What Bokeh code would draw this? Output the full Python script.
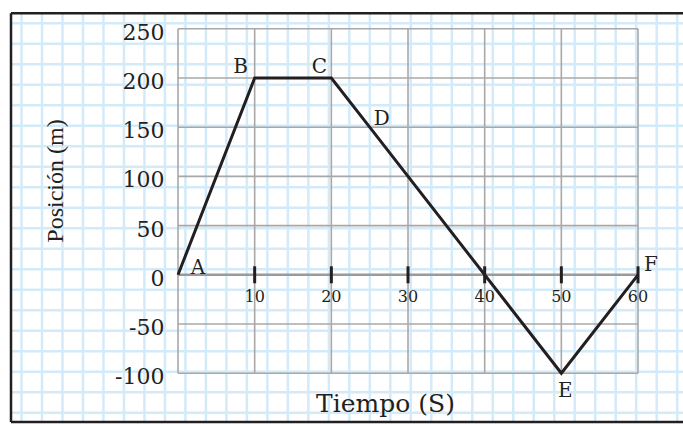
import numpy as np
from bokeh.plotting import figure
from bokeh.models import ColumnDataSource, Range1d, Grid, Label
from bokeh.core.properties import value
from bokeh.embed import file_html
from bokeh.resources import INLINE

# ---------------- data ----------------
time_s = [0, 10, 20, 25, 50, 60]
position_m = [0, 200, 200, 150, -100, 0]
point_names = ["A", "B", "C", "D", "E", "F"]
x_ticks = [10, 20, 30, 40, 50, 60]
y_ticks = [-100, -50, 0, 50, 100, 150, 200, 250]
x_grid = [0, 10, 20, 30, 40, 50, 60]
x_title = "Tiempo (S)"
y_title = "Posición (m)"

# ---------------- layout / style ----------------
W, H = 683, 424
PAGE_X0, PAGE_Y0 = 0, 0
X0_PAGE, PX_PER_X = 177.5, 7.667
Y0_PAGE, PX_PER_Y = 274.3, 0.984
INK = "#231f20"
SERIF = "DejaVu Serif"
label_dx = [20, -14, -12, 12, 4, 13]
label_dy = [-8, -12, -12, -9, 16.5, -10.5]

x_start = (PAGE_X0 - X0_PAGE) / PX_PER_X
x_end = (PAGE_X0 + W - X0_PAGE) / PX_PER_X
y_end = (Y0_PAGE - PAGE_Y0) / PX_PER_Y
y_start = (Y0_PAGE - (PAGE_Y0 + H)) / PX_PER_Y

p = figure(width=W, height=H, x_range=Range1d(x_start, x_end), y_range=Range1d(y_start, y_end),
           x_axis_location=None, y_axis_location=None, min_border=0,
           toolbar_location=None, output_backend="svg")
p.outline_line_color = None
p.background_fill_color = "white"
p.border_fill_color = "white"
p.center = [r for r in p.center if not isinstance(r, Grid)]

# page-pixel ranges for decoration
p.extra_x_ranges = {"px": Range1d(PAGE_X0, PAGE_X0 + W)}
p.extra_y_ranges = {"py": Range1d(PAGE_Y0 + H, PAGE_Y0)}

BORDER_L, BORDER_T, BORDER_B = 10.5, 12.7, 421.5

# graph paper (light blue)
BLUE = "#d3ebf9"
vx = [21 + 20.49 * k for k in range(33)]
hy = [22.7 + 20.5 * k for k in range(20)]
p.segment(x0=vx, x1=vx, y0=[BORDER_T] * len(vx), y1=[BORDER_B] * len(vx),
          x_range_name="px", y_range_name="py", line_color=BLUE, line_width=2.5, level="underlay")
p.segment(x0=[BORDER_L] * len(hy), x1=[W + 10] * len(hy), y0=hy, y1=hy,
          x_range_name="px", y_range_name="py", line_color=BLUE, line_width=2.5, level="underlay")

# chart grid (gray)
GRAY = "#a8a8a8"
ymin, ymax = min(y_ticks), max(y_ticks)
xmin, xmax = min(x_grid), max(x_grid)
p.segment(x0=x_grid, x1=x_grid, y0=[ymin] * len(x_grid), y1=[ymax] * len(x_grid),
          line_color=GRAY, line_width=1.6, level="underlay")
p.segment(x0=[xmin] * len(y_ticks), x1=[xmax] * len(y_ticks), y0=y_ticks, y1=y_ticks,
          line_color=GRAY, line_width=1.6, level="underlay")
p.segment(x0=[xmin], x1=[xmax], y0=[0], y1=[0], line_color="#9a9a9a", line_width=2.6, level="underlay")

# outer border
p.segment(x0=[BORDER_L, BORDER_L], x1=[BORDER_L, W + 10], y0=[BORDER_T, BORDER_T], y1=[BORDER_B, BORDER_T],
          x_range_name="px", y_range_name="py", line_color=INK, line_width=2.5)
p.segment(x0=[BORDER_L], x1=[W + 10], y0=[BORDER_B], y1=[BORDER_B],
          x_range_name="px", y_range_name="py", line_color=INK, line_width=2.5)

# x tick marks on the zero line
p.scatter(x=x_ticks, y=[0] * len(x_ticks), marker="dash", angle=np.pi / 2, size=17,
          line_color=INK, line_width=3)

# data line
p.line(time_s, position_m, line_color=INK, line_width=3, line_join="miter")

# point labels
src = ColumnDataSource(dict(x=time_s, y=position_m, t=point_names, dx=label_dx, dy=label_dy))
p.text(x="x", y="y", text="t", x_offset="dx", y_offset="dy", source=src,
       text_font=value(SERIF), text_font_size="20px", text_color=INK,
       text_align="center", text_baseline="middle")

# tick labels
p.text(x=x_ticks, y=[0] * len(x_ticks), text=[str(v) for v in x_ticks], y_offset=21,
       text_font=value(SERIF), text_font_size="16px", text_color=INK,
       text_align="center", text_baseline="middle")
p.text(x=[0] * len(y_ticks), y=y_ticks, text=[str(v) for v in y_ticks], x_offset=-13.5, y_offset=3,
       text_font=value(SERIF), text_font_size="22px", text_color=INK,
       text_align="right", text_baseline="middle")

# axis titles
p.add_layout(Label(x=385, y=403, x_range_name="px", y_range_name="py", text=x_title,
                   text_font=SERIF, text_font_size="25px", text_color=INK,
                   text_align="center", text_baseline="middle"))
p.add_layout(Label(x=54, y=180.5, x_range_name="px", y_range_name="py", text=y_title, angle=np.pi / 2,
                   text_font="Liberation Serif", text_font_size="24px", text_color=INK,
                   text_align="center", text_baseline="middle"))

open("out.html", "w").write(file_html(p, INLINE))
